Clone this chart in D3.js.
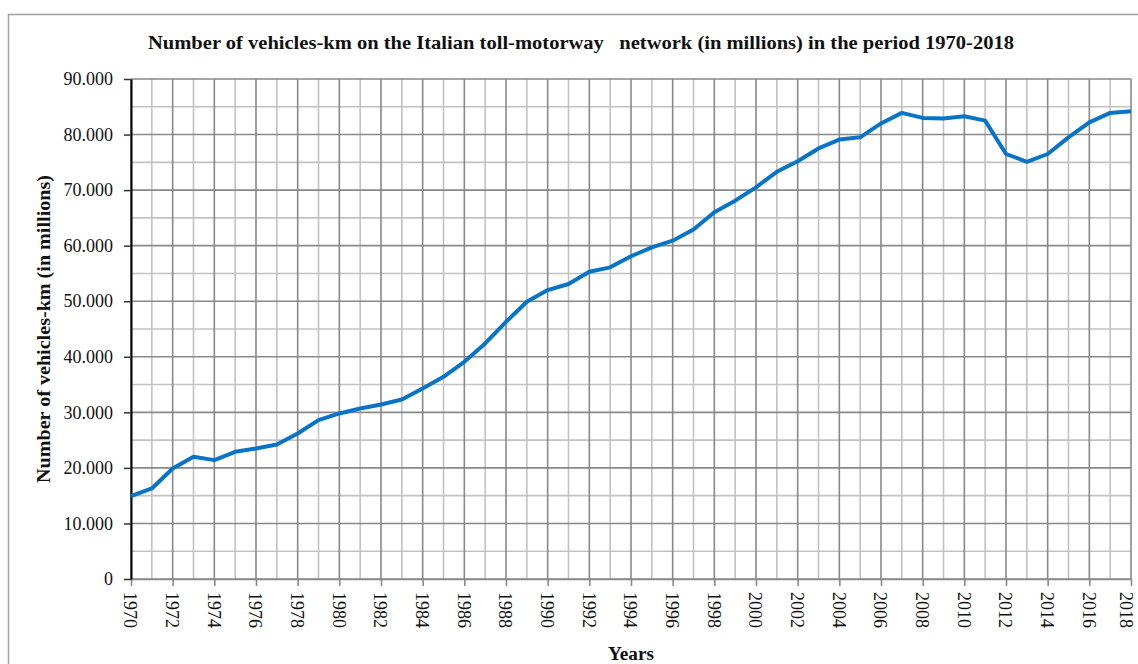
<!DOCTYPE html>
<html>
  <head>
    <meta charset="utf-8">
    <title>Vehicles-km on the Italian toll-motorway network</title>
    <script src="https://d3js.org/d3.v7.min.js"></script>
    <style>
      body { margin: 0; background: #fff; }
      text { font-family: "Liberation Serif", "DejaVu Serif", serif; fill: #111; }
      .title, .axisTitle { font-weight: bold; }
    </style>
  </head>
  <body>
    <svg id="chart" width="1138" height="664"></svg>
    <script>
      // data (millions of vehicles-km)
      const years = d3.range(1970, 2019);
      const vehicleKm = [
        14.9, 16.3, 19.9, 22.0, 21.4, 22.9, 23.5, 24.2, 26.2, 28.6,
        29.8, 30.7, 31.4, 32.3, 34.3, 36.4, 39.1, 42.4, 46.3, 49.9,
        52.0, 53.1, 55.3, 56.1, 58.1, 59.7, 60.9, 62.9, 66.0, 68.1,
        70.5, 73.3, 75.2, 77.5, 79.1, 79.5, 82.0, 83.9, 83.0, 82.9,
        83.3, 82.5, 76.5, 75.1, 76.5, 79.5, 82.2, 83.9, 84.2
      ].map(function(d) { return d * 1000; });
      const yTicks = [0, 10000, 20000, 30000, 40000, 50000, 60000, 70000, 80000, 90000];
      const yMinor = d3.range(5000, 90000, 10000);
      const xTicks = d3.range(1970, 2019, 2);

      const margin = { top: 79, right: 7, bottom: 85, left: 131 };
      const width = 1138, height = 664;
      const svg = d3.select("#chart");

      const x = d3.scaleLinear().domain([1970, 2018]).range([margin.left, width - margin.right]);
      const y = d3.scaleLinear().domain([0, 90000]).range([height - margin.bottom, margin.top]);

      // outer frame
      svg.append("rect")
        .attr("x", 8.5).attr("y", 14.5)
        .attr("width", 1160).attr("height", 700)
        .attr("fill", "none").attr("stroke", "#a0a0a0").attr("stroke-width", 1.5);

      svg.append("text")
        .classed("title", true)
        .attr("x", 581).attr("y", 49)
        .attr("text-anchor", "middle")
        .attr("textLength", 866)
        .attr("lengthAdjust", "spacingAndGlyphs")
        .style("font-size", "18.5px")
        .text("Number of vehicles-km on the Italian toll-motorway\u00a0\u00a0 network (in millions) in the period 1970-2018");

      const grid = svg.append("g");
      // minor grid
      grid.selectAll(".vminor")
        .data(years.filter(function(d) { return d % 2 === 1; }))
        .enter().append("line")
          .attr("x1", function(d) { return x(d); }).attr("x2", function(d) { return x(d); })
          .attr("y1", y(0)).attr("y2", y(90000))
          .attr("stroke", "#c2c2c2").attr("stroke-width", 1.6);
      grid.selectAll(".hminor")
        .data(yMinor)
        .enter().append("line")
          .attr("x1", x(1970)).attr("x2", x(2018))
          .attr("y1", function(d) { return y(d); }).attr("y2", function(d) { return y(d); })
          .attr("stroke", "#c2c2c2").attr("stroke-width", 1.6);
      // major grid
      grid.selectAll(".vmajor")
        .data(xTicks)
        .enter().append("line")
          .attr("x1", function(d) { return x(d); }).attr("x2", function(d) { return x(d); })
          .attr("y1", y(0)).attr("y2", y(90000))
          .attr("stroke", "#898989").attr("stroke-width", 1.6);
      grid.selectAll(".hmajor")
        .data(yTicks)
        .enter().append("line")
          .attr("x1", x(1970)).attr("x2", x(2018))
          .attr("y1", function(d) { return y(d); }).attr("y2", function(d) { return y(d); })
          .attr("stroke", "#898989").attr("stroke-width", 1.6);

      // x axis
      const xAxis = d3.axisBottom(x)
        .tickValues(xTicks)
        .tickFormat(d3.format("d"))
        .tickSize(7)
        .tickSizeOuter(0);
      const xg = svg.append("g")
        .attr("transform", "translate(0," + y(0) + ")")
        .call(xAxis);
      xg.select(".domain").attr("stroke", "#898989").attr("stroke-width", 1.6);
      xg.selectAll(".tick line").attr("stroke", "#898989").attr("stroke-width", 1.6);
      xg.selectAll(".tick text")
        .attr("transform", "rotate(90)")
        .attr("x", 13).attr("y", 0)
        .attr("dy", function(d) { return d === 2018 ? "0.62em" : "0.4em"; })
        .attr("text-anchor", "start")
        .style("font-size", "18px")
        .style("font-family", "'Liberation Serif', serif")
        .attr("fill", "#111");

      // y axis
      const yAxis = d3.axisLeft(y)
        .tickValues(yTicks)
        .tickFormat(function(d) { return d === 0 ? "0" : d3.format(",")(d).replace(/,/g, "."); })
        .tickSize(7)
        .tickSizeOuter(0)
        .tickPadding(11);
      const yg = svg.append("g")
        .attr("transform", "translate(" + x(1970) + ",0)")
        .call(yAxis);
      yg.select(".domain").attr("stroke", "#000").attr("stroke-width", 2);
      yg.selectAll(".tick line").attr("stroke", "#333").attr("stroke-width", 1.5);
      yg.selectAll(".tick text")
        .style("font-size", "18px")
        .style("font-family", "'Liberation Serif', serif")
        .attr("fill", "#111");

      // series line
      svg.append("path")
        .datum(years.map(function(d, i) { return [d, vehicleKm[i]]; }))
        .attr("fill", "none")
        .attr("stroke", "#0874c8")
        .attr("stroke-width", 4)
        .attr("stroke-linejoin", "round")
        .attr("d", d3.line()
          .x(function(d) { return x(d[0]); })
          .y(function(d) { return y(d[1]); }));

      // axis titles
      svg.append("text")
        .classed("axisTitle", true)
        .attr("transform", "translate(50," + (y(45000)) + ") rotate(-90)")
        .attr("text-anchor", "middle")
        .attr("textLength", 308)
        .attr("lengthAdjust", "spacingAndGlyphs")
        .style("font-size", "18px")
        .text("Number of vehicles-km (in millions)");
      svg.append("text")
        .classed("axisTitle", true)
        .attr("x", (x(1970) + x(2018)) / 2).attr("y", 660)
        .attr("text-anchor", "middle")
        .attr("textLength", 46)
        .attr("lengthAdjust", "spacingAndGlyphs")
        .style("font-size", "18px")
        .text("Years");
    </script>
  </body>
</html>
